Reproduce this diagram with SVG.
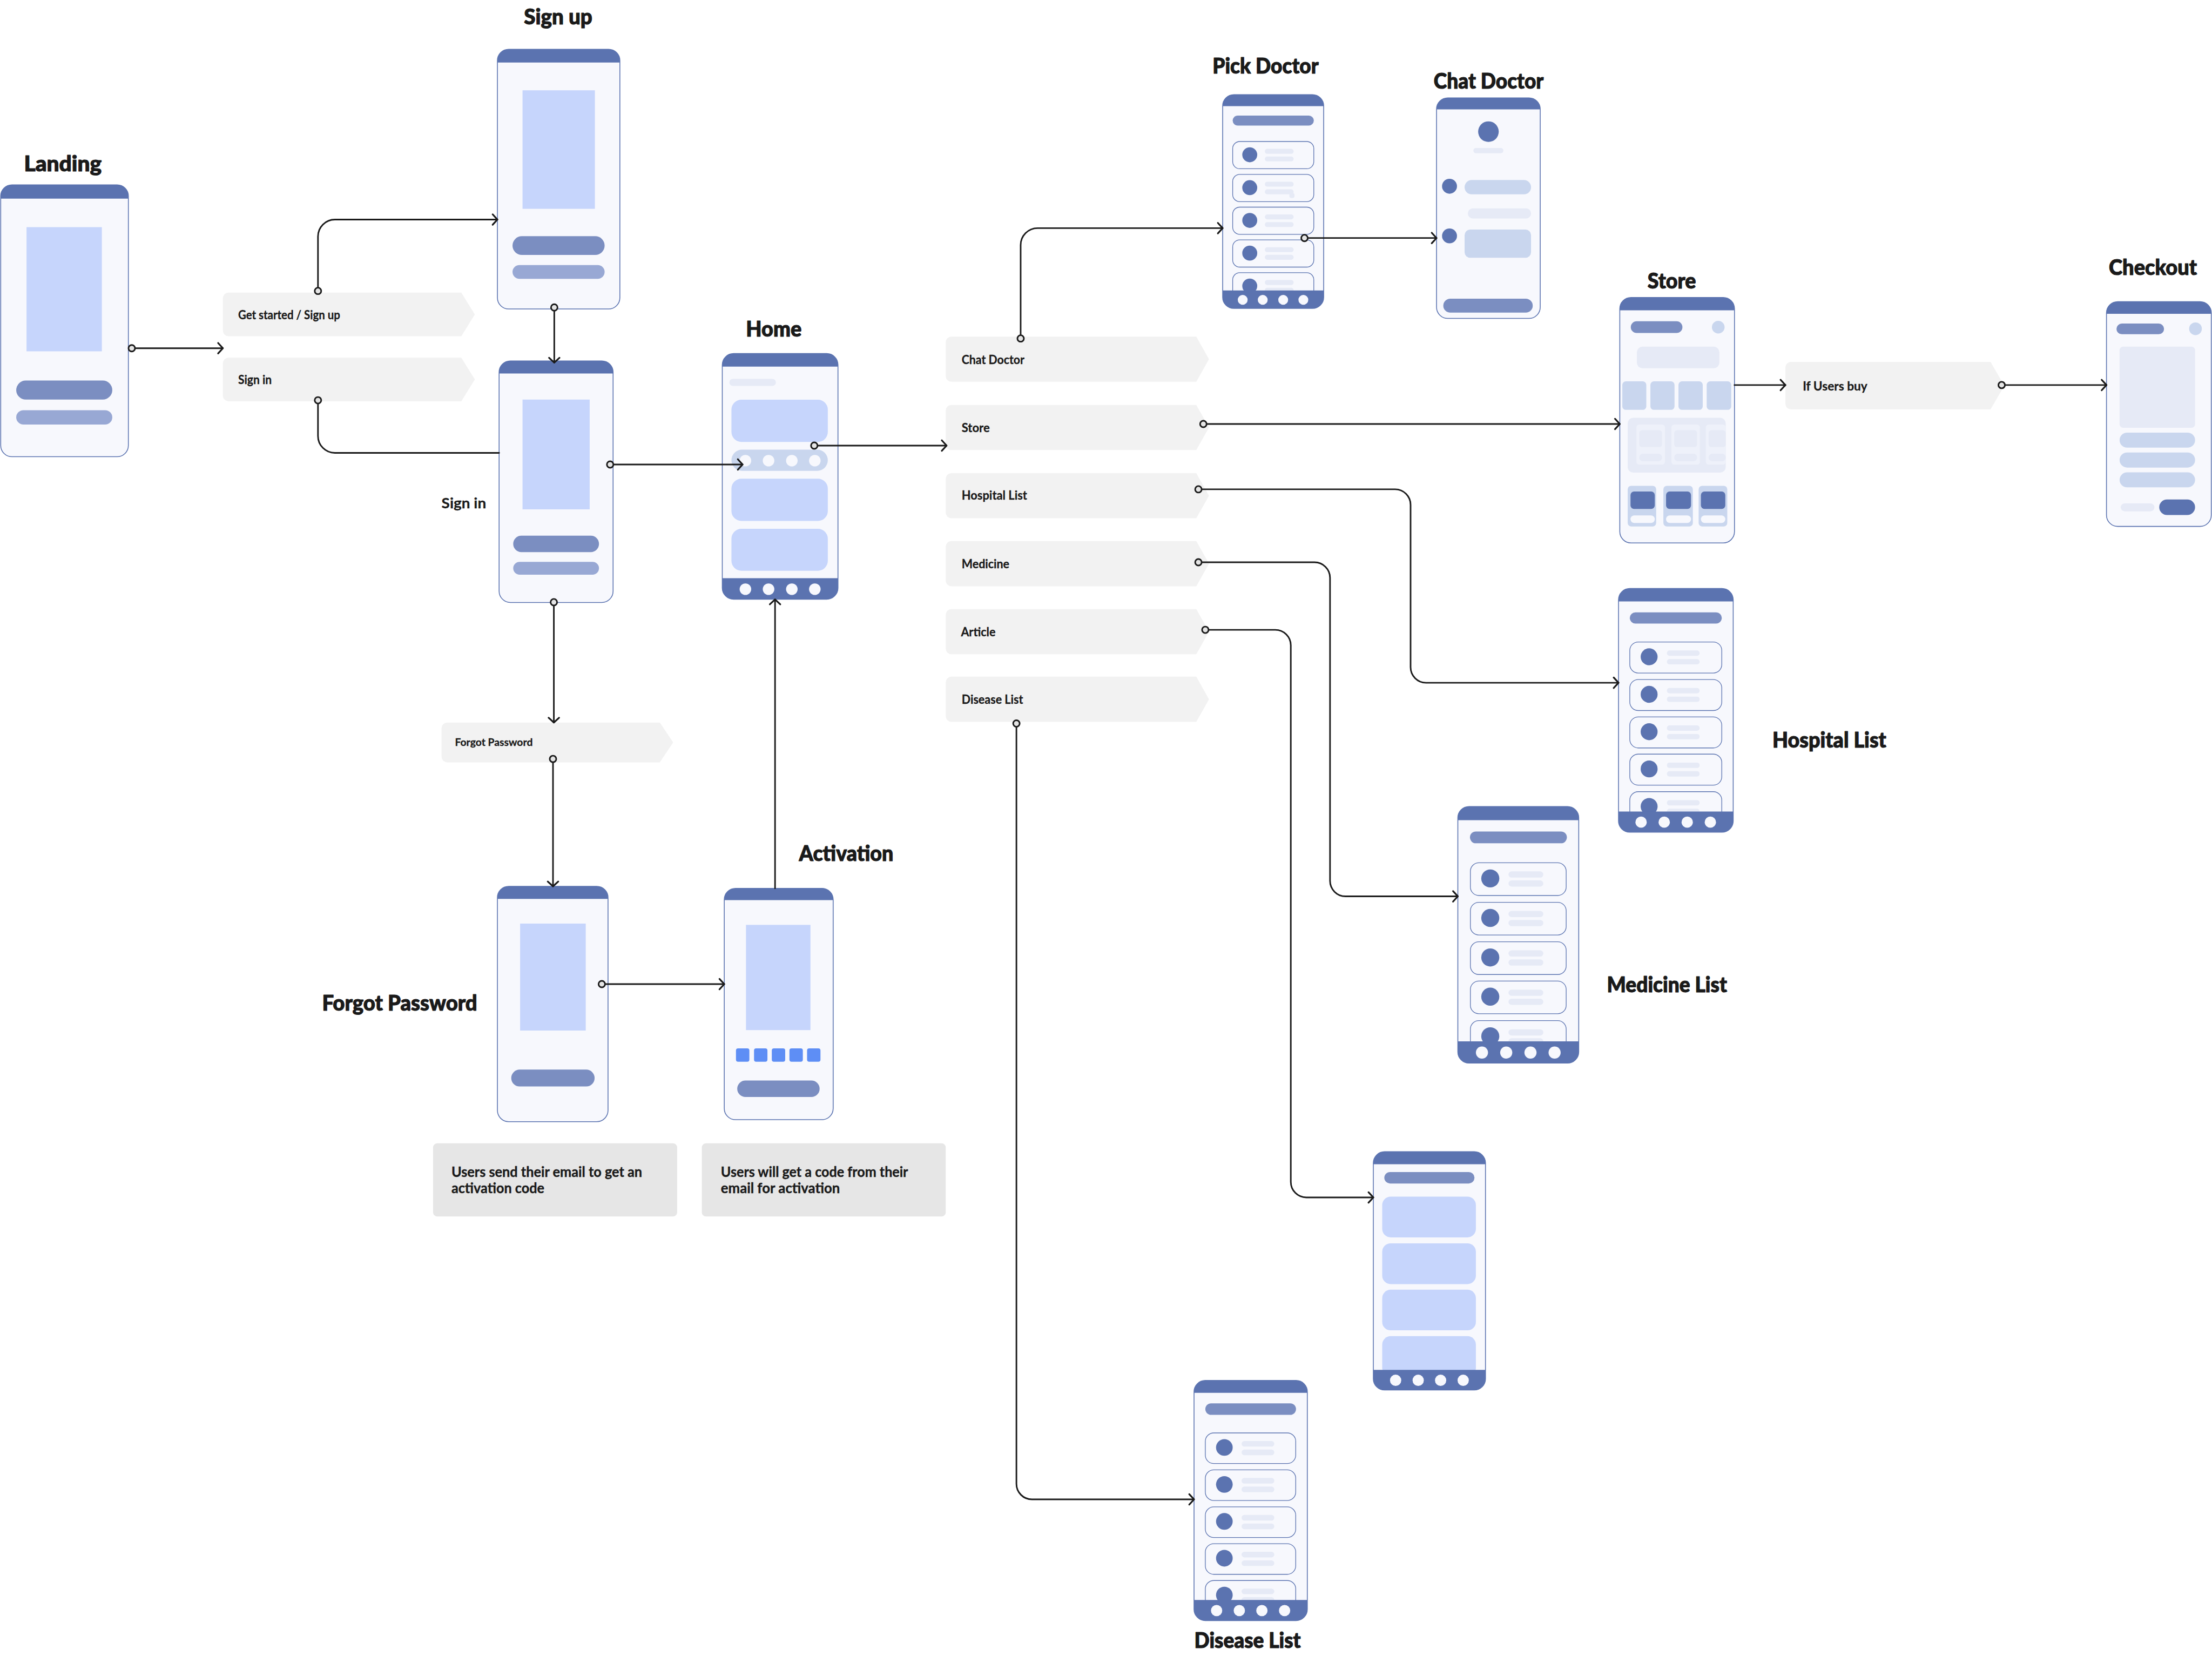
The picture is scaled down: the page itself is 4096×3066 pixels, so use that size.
<svg xmlns="http://www.w3.org/2000/svg" xmlns:xlink="http://www.w3.org/1999/xlink" width="4096" height="3066" viewBox="0 0 4096 3066">
<style>
.bd{fill:#F7F8FD;stroke:#5B73B0;stroke-width:0.6}
.hd{fill:#5B73B0}
.img{fill:#C6D5FC}
.b1{fill:#7B8EC1}
.b2{fill:#98A8D4}
.lt{fill:#E6EAF6}
.md{fill:#C9D6EE}
.dot{fill:#F7F8FD}
.cd{fill:#F7F8FD;stroke:#5B73B0;stroke-width:0.5}
.av{fill:#5B73B0}
.code{fill:#5E8EF5}
.tag{fill:#F2F2F2}
.note{fill:#E6E6E6}
.cn{fill:none;stroke:#1A1A1A;stroke-width:1.1;stroke-linecap:round;stroke-linejoin:round}
.pt{fill:#E5E5E5;stroke:#1A1A1A;stroke-width:1.1}
.t{font-family:Lato,'Noto Sans','DejaVu Sans',sans-serif;font-weight:700;fill:#1A1A1A;stroke:#1A1A1A;stroke-width:0.12;stroke-linejoin:round}
.tt{font-size:15.5px;font-weight:900;stroke-width:0.45}
.tl{font-size:9px}
.tn{font-size:10px;stroke-width:0.15}
</style>
<defs>
<marker id="arr" markerUnits="userSpaceOnUse" viewBox="-5 -5 10 10" markerWidth="10" markerHeight="10" refX="0" refY="0" orient="auto" overflow="visible">
<path d="M-3.4,-3.7 L0,0 L-3.4,3.7" fill="none" stroke="#1A1A1A" stroke-width="1.2" stroke-linecap="round" stroke-linejoin="round"/>
</marker>
<path id="tagM" d="M4,0 H177.6 L186.6,16 L177.6,32 H4 A4,4 0 0 1 0,28 V4 A4,4 0 0 1 4,0 Z"/>
<path id="tagA" d="M4,0 H169 L178.6,15.45 L169,30.9 H4 A4,4 0 0 1 0,26.9 V4 A4,4 0 0 1 4,0 Z"/>
<g id="cardP"><rect class="cd" x="0" y="0" width="57.5" height="19.3" rx="5"/><circle class="av" cx="12.1" cy="9.4" r="5.3"/><rect class="lt" x="22.8" y="5.2" width="20.4" height="3.5" rx="1.75"/><rect class="lt" x="22.8" y="10.6" width="20.4" height="3.5" rx="1.75"/></g>
<g id="cardH"><rect class="cd" x="0" y="0" width="65.2" height="22" rx="6"/><circle class="av" cx="13.7" cy="10.5" r="6"/><rect class="lt" x="26.3" y="6" width="23.2" height="3.8" rx="1.9"/><rect class="lt" x="26.3" y="12.1" width="23.2" height="3.8" rx="1.9"/></g>
<g id="cardM"><rect class="cd" x="0" y="0" width="67.9" height="23.2" rx="6"/><circle class="av" cx="14.1" cy="11.1" r="6.4"/><rect class="lt" x="27" y="6.1" width="24.7" height="4.4" rx="2.2"/><rect class="lt" x="27" y="12.5" width="24.7" height="4.4" rx="2.2"/></g>
<g id="cardD"><rect class="cd" x="0" y="0" width="64.1" height="21.7" rx="6"/><circle class="av" cx="13.5" cy="10.3" r="5.9"/><rect class="lt" x="25.7" y="5.7" width="23.2" height="4" rx="2"/><rect class="lt" x="25.7" y="11.8" width="23.2" height="4" rx="2"/></g>
</defs>
<rect width="4096" height="3066" fill="#FFFFFF"/>
<g transform="scale(2.612245)">

<g id="landing">
<rect class="bd" x="0.5" y="131" width="90.5" height="192.7" rx="8"/>
<path class="hd" d="M0.5,140.8 V139 A8,8 0 0 1 8.5,131 H83 A8,8 0 0 1 91,139 V140.8 Z"/>
<rect class="img" x="18.8" y="161" width="53.4" height="88"/>
<rect class="b1" x="11.5" y="269.7" width="68.1" height="13.5" rx="6.75"/>
<rect class="b2" x="11.5" y="290.7" width="68.1" height="10.2" rx="5.1"/>
<text class="t tt" x="17" y="121.4" textLength="55" lengthAdjust="spacingAndGlyphs">Landing</text>
</g>

<g id="signup">
<rect class="bd" x="352.6" y="34.9" width="86.8" height="184.1" rx="8"/>
<path class="hd" d="M352.6,44.3 V42.9 A8,8 0 0 1 360.6,34.9 H431.4 A8,8 0 0 1 439.4,42.9 V44.3 Z"/>
<rect class="img" x="370.4" y="64" width="51.3" height="84"/>
<rect class="b1" x="363.3" y="167.4" width="65.3" height="13.3" rx="6.65"/>
<rect class="b2" x="363.3" y="187.9" width="65.3" height="9.7" rx="4.85"/>
<text class="t tt" x="371.4" y="17.2" textLength="48.5" lengthAdjust="spacingAndGlyphs">Sign up</text>
</g>

<g id="signin">
<rect class="bd" x="353.8" y="255.8" width="80.8" height="171.2" rx="8"/>
<path class="hd" d="M353.8,264.7 V263.8 A8,8 0 0 1 361.8,255.8 H426.6 A8,8 0 0 1 434.6,263.8 V264.7 Z"/>
<rect class="img" x="370.4" y="283.2" width="47.6" height="77.8"/>
<rect class="b1" x="363.8" y="379.7" width="60.8" height="11.6" rx="5.8"/>
<rect class="b2" x="363.8" y="398.2" width="60.8" height="9.1" rx="4.55"/>
<text class="t" font-size="10.5" stroke-width="0.3" x="313" y="360.2" textLength="31.6" lengthAdjust="spacingAndGlyphs">Sign in</text>
</g>

<g id="home">
<rect class="bd" x="512" y="250.6" width="82" height="174.1" rx="8"/>
<path class="hd" d="M512,259.8 V258.6 A8,8 0 0 1 520,250.6 H586 A8,8 0 0 1 594,258.6 V259.8 Z"/>
<rect class="lt" x="517" y="268.5" width="33" height="5" rx="2.5"/>
<rect class="img" x="518.5" y="283.3" width="68.3" height="29.9" rx="7"/>
<rect class="md" x="518.5" y="318.7" width="68.3" height="15" rx="7.5"/>
<circle class="dot" cx="528.4" cy="326.5" r="4.1"/>
<circle class="dot" cx="544.8" cy="326.5" r="4.1"/>
<circle class="dot" cx="561.3" cy="326.5" r="4.1"/>
<circle class="dot" cx="577.6" cy="326.5" r="4.1"/>
<rect class="img" x="518.5" y="339.3" width="68.3" height="29.9" rx="7"/>
<rect class="img" x="518.5" y="374.8" width="68.3" height="29.7" rx="7"/>
<path class="hd" d="M512,409.8 H594 V416.7 A8,8 0 0 1 586,424.7 H520 A8,8 0 0 1 512,416.7 Z"/>
<circle class="dot" cx="528.4" cy="417.6" r="4.1"/>
<circle class="dot" cx="544.8" cy="417.6" r="4.1"/>
<circle class="dot" cx="561.3" cy="417.6" r="4.1"/>
<circle class="dot" cx="577.6" cy="417.6" r="4.1"/>
<text class="t tt" x="528.8" y="238.5" textLength="39.4" lengthAdjust="spacingAndGlyphs">Home</text>
</g>

<g id="forgot">
<rect class="bd" x="352.6" y="628.2" width="78.4" height="166.8" rx="8"/>
<path class="hd" d="M352.6,637.1 V636.2 A8,8 0 0 1 360.6,628.2 H423 A8,8 0 0 1 431,636.2 V637.1 Z"/>
<rect class="img" x="368.7" y="654.6" width="46.5" height="75.8"/>
<rect class="b1" x="362.4" y="758.1" width="59.1" height="11.9" rx="5.95"/>
<text class="t tt" x="228.3" y="716.4" textLength="110" lengthAdjust="spacingAndGlyphs">Forgot Password</text>
</g>

<g id="activation">
<rect class="bd" x="513.4" y="629.6" width="77.2" height="164" rx="8"/>
<path class="hd" d="M513.4,638 V637.6 A8,8 0 0 1 521.4,629.6 H582.6 A8,8 0 0 1 590.6,637.6 V638 Z"/>
<rect class="img" x="528.8" y="655.5" width="45.7" height="74.6"/>
<rect class="code" x="521.7" y="743" width="9.5" height="9.5" rx="1.5"/>
<rect class="code" x="534.5" y="743" width="9.5" height="9.5" rx="1.5"/>
<rect class="code" x="547.1" y="743" width="9.5" height="9.5" rx="1.5"/>
<rect class="code" x="559.6" y="743" width="9.5" height="9.5" rx="1.5"/>
<rect class="code" x="572.1" y="743" width="9.5" height="9.5" rx="1.5"/>
<rect class="b1" x="522.6" y="765.8" width="58.4" height="11.7" rx="5.85"/>
<text class="t tt" x="566.4" y="610.3" textLength="66.9" lengthAdjust="spacingAndGlyphs">Activation</text>
</g>

<g id="pickdoctor">
<rect class="bd" x="866.7" y="67.1" width="71.6" height="151.5" rx="8"/>
<rect class="b1" x="873.8" y="81.9" width="57.5" height="7.1" rx="3.55"/>
<use xlink:href="#cardP" x="873.8" y="100.3"/>
<use xlink:href="#cardP" x="873.8" y="123.6"/>
<rect class="lt" x="914" y="136.9" width="3.6" height="3.4" rx="1.2"/>
<use xlink:href="#cardP" x="873.8" y="146.8"/>
<use xlink:href="#cardP" x="873.8" y="170"/>
<use xlink:href="#cardP" x="873.8" y="193.3"/>
<path class="hd" d="M866.7,75.2 V75.1 A8,8 0 0 1 874.7,67.1 H930.3 A8,8 0 0 1 938.3,75.1 V75.2 Z"/>
<path class="hd" d="M866.7,205.9 H938.3 V210.6 A8,8 0 0 1 930.3,218.6 H874.7 A8,8 0 0 1 866.7,210.6 Z"/>
<circle class="dot" cx="880.9" cy="212.5" r="3.5"/>
<circle class="dot" cx="895.1" cy="212.5" r="3.5"/>
<circle class="dot" cx="909.6" cy="212.5" r="3.5"/>
<circle class="dot" cx="923.9" cy="212.5" r="3.5"/>
<text class="t tt" x="859.5" y="52" textLength="75.2" lengthAdjust="spacingAndGlyphs">Pick Doctor</text>
</g>

<g id="chatdoctor">
<rect class="bd" x="1018.3" y="69.4" width="73.5" height="156.3" rx="8"/>
<path class="hd" d="M1018.3,77.5 V77.4 A8,8 0 0 1 1026.3,69.4 H1083.8 A8,8 0 0 1 1091.8,77.4 V77.5 Z"/>
<circle class="av" cx="1055.1" cy="93.3" r="7.3"/>
<rect class="lt" x="1044.4" y="104.9" width="21.3" height="3.7" rx="1.85"/>
<circle class="av" cx="1027.5" cy="132" r="5.3"/>
<rect class="md" x="1038.2" y="127.6" width="47.1" height="10.1" rx="5"/>
<rect class="lt" x="1040.5" y="147.7" width="44.8" height="7.1" rx="3.5"/>
<circle class="av" cx="1027.5" cy="167.2" r="5.3"/>
<rect class="md" x="1038.2" y="162.7" width="47.1" height="20" rx="4"/>
<rect class="b1" x="1023.1" y="211.7" width="63.4" height="9.9" rx="4.95"/>
<text class="t tt" x="1016.3" y="62.8" textLength="77.9" lengthAdjust="spacingAndGlyphs">Chat Doctor</text>
</g>

<g id="store">
<rect class="bd" x="1148.2" y="210.8" width="81.3" height="174" rx="8"/>
<path class="hd" d="M1148.2,219.9 V218.8 A8,8 0 0 1 1156.2,210.8 H1221.5 A8,8 0 0 1 1229.5,218.8 V219.9 Z"/>
<rect class="b1" x="1156" y="227.7" width="36.6" height="8.3" rx="4.15"/>
<circle class="md" cx="1218" cy="231.9" r="4.5"/>
<rect class="lt" x="1160.3" y="245.7" width="58.5" height="15.3" rx="4"/>
<rect class="md" x="1150" y="270.3" width="17" height="20.2" rx="2.5"/>
<rect class="md" x="1169.9" y="270.3" width="17.1" height="20.2" rx="2.5"/>
<rect class="md" x="1189.8" y="270.3" width="17.2" height="20.2" rx="2.5"/>
<rect class="md" x="1209.8" y="270.3" width="17.4" height="20.2" rx="2.5"/>
<rect class="lt" x="1153.8" y="296.1" width="69.5" height="38.9" rx="4"/>
<rect x="1160" y="300.9" width="20.2" height="28.4" rx="2" fill="#EEF1FA"/>
<rect x="1184.8" y="300.9" width="20.2" height="28.4" rx="2" fill="#EEF1FA"/>
<rect x="1209.2" y="300.9" width="14.1" height="28.4" rx="2" fill="#EEF1FA"/>
<rect class="lt" x="1162" y="304.9" width="16.2" height="12" rx="2"/>
<rect class="lt" x="1186.8" y="304.9" width="16.2" height="12" rx="2"/>
<rect class="lt" x="1211.2" y="304.9" width="12.1" height="12" rx="2"/>
<rect class="lt" x="1162" y="321.6" width="16.2" height="5.3" rx="2.6"/>
<rect class="lt" x="1186.8" y="321.6" width="16.2" height="5.3" rx="2.6"/>
<rect class="lt" x="1211.2" y="321.6" width="12.1" height="5.3" rx="2.6"/>
<rect class="md" x="1153.8" y="344.3" width="20.2" height="28.8" rx="2.5"/>
<rect class="md" x="1179.1" y="344.3" width="20.9" height="28.8" rx="2.5"/>
<rect class="md" x="1204.1" y="344.3" width="20.3" height="28.8" rx="2.5"/>
<rect class="hd" x="1155.8" y="348.4" width="17.2" height="12.3" rx="2.5"/>
<rect class="hd" x="1181" y="348.4" width="17.7" height="12.3" rx="2.5"/>
<rect class="hd" x="1205.7" y="348.4" width="17.3" height="12.3" rx="2.5"/>
<rect class="dot" x="1155.8" y="365.3" width="17.2" height="5.4" rx="2.7"/>
<rect class="dot" x="1181" y="365.3" width="17.7" height="5.4" rx="2.7"/>
<rect class="dot" x="1205.7" y="365.3" width="17.3" height="5.4" rx="2.7"/>
<text class="t tt" x="1167.9" y="204.6" textLength="34.3" lengthAdjust="spacingAndGlyphs">Store</text>
</g>

<g id="checkout">
<rect class="bd" x="1493.2" y="213.8" width="74.3" height="159.3" rx="8"/>
<path class="hd" d="M1493.2,222.4 V221.8 A8,8 0 0 1 1501.2,213.8 H1559.5 A8,8 0 0 1 1567.5,221.8 V222.4 Z"/>
<rect class="b1" x="1500.3" y="229.3" width="33.7" height="7.6" rx="3.8"/>
<circle class="md" cx="1556.3" cy="233" r="4.5"/>
<rect class="lt" x="1502.5" y="245.7" width="53.5" height="57.5" rx="2.5"/>
<rect class="md" x="1502.5" y="306.6" width="53.5" height="10.7" rx="5.35"/>
<rect class="md" x="1502.5" y="320.7" width="53.5" height="10.7" rx="5.35"/>
<rect class="md" x="1502.5" y="334.8" width="53.5" height="10.6" rx="5.3"/>
<rect class="lt" x="1503.3" y="356.8" width="23.9" height="5.6" rx="2.8"/>
<rect class="hd" x="1530.6" y="354" width="25.4" height="11" rx="5.5"/>
<text class="t tt" x="1494.9" y="194.8" textLength="62.4" lengthAdjust="spacingAndGlyphs">Checkout</text>
</g>

<g id="hospitallist">
<rect class="bd" x="1147.3" y="417.1" width="81.3" height="172.7" rx="8"/>
<rect class="b1" x="1155.3" y="434" width="65.2" height="8" rx="4"/>
<use xlink:href="#cardH" x="1155.3" y="455"/>
<use xlink:href="#cardH" x="1155.3" y="481.6"/>
<use xlink:href="#cardH" x="1155.3" y="508.1"/>
<use xlink:href="#cardH" x="1155.3" y="534.5"/>
<use xlink:href="#cardH" x="1155.3" y="561.1"/>
<path class="hd" d="M1147.3,426.3 V425.1 A8,8 0 0 1 1155.3,417.1 H1220.6 A8,8 0 0 1 1228.6,425.1 V426.3 Z"/>
<path class="hd" d="M1147.3,575.2 H1228.6 V581.8 A8,8 0 0 1 1220.6,589.8 H1155.3 A8,8 0 0 1 1147.3,581.8 Z"/>
<circle class="dot" cx="1163.3" cy="582.7" r="4"/>
<circle class="dot" cx="1179.7" cy="582.7" r="4"/>
<circle class="dot" cx="1196" cy="582.7" r="4"/>
<circle class="dot" cx="1212.4" cy="582.7" r="4"/>
<text class="t tt" x="1256.4" y="529.8" textLength="80.7" lengthAdjust="spacingAndGlyphs">Hospital List</text>
</g>

<g id="medicinelist">
<rect class="bd" x="1033.4" y="571.6" width="85.7" height="181.9" rx="8"/>
<rect class="b1" x="1042" y="589.3" width="68.7" height="8.4" rx="4.2"/>
<use xlink:href="#cardM" x="1042.3" y="611.5"/>
<use xlink:href="#cardM" x="1042.3" y="639.5"/>
<use xlink:href="#cardM" x="1042.3" y="667.5"/>
<use xlink:href="#cardM" x="1042.3" y="695.3"/>
<use xlink:href="#cardM" x="1042.3" y="723.4"/>
<path class="hd" d="M1033.4,581.3 V579.6 A8,8 0 0 1 1041.4,571.6 H1111.1 A8,8 0 0 1 1119.1,579.6 V581.3 Z"/>
<path class="hd" d="M1033.4,738.1 H1119.1 V745.5 A8,8 0 0 1 1111.1,753.5 H1041.4 A8,8 0 0 1 1033.4,745.5 Z"/>
<circle class="dot" cx="1050.5" cy="746" r="4.3"/>
<circle class="dot" cx="1067.7" cy="746" r="4.3"/>
<circle class="dot" cx="1084.9" cy="746" r="4.3"/>
<circle class="dot" cx="1102" cy="746" r="4.3"/>
<text class="t tt" x="1139.1" y="703.1" textLength="85.1" lengthAdjust="spacingAndGlyphs">Medicine List</text>
</g>

<g id="article">
<rect class="bd" x="973.5" y="816.3" width="79.5" height="168.9" rx="8"/>
<rect class="b1" x="981.3" y="830.7" width="63.9" height="8.1" rx="4.05"/>
<rect class="img" x="979.8" y="848.1" width="66.4" height="28.9" rx="6"/>
<rect class="img" x="979.8" y="881.2" width="66.4" height="28.9" rx="6"/>
<rect class="img" x="979.8" y="914.1" width="66.4" height="28.8" rx="6"/>
<rect class="img" x="979.8" y="947" width="66.4" height="28.8" rx="6"/>
<path class="hd" d="M973.5,825.2 V824.3 A8,8 0 0 1 981.5,816.3 H1045 A8,8 0 0 1 1053,824.3 V825.2 Z"/>
<path class="hd" d="M973.5,970.9 H1053 V977.2 A8,8 0 0 1 1045,985.2 H981.5 A8,8 0 0 1 973.5,977.2 Z"/>
<circle class="dot" cx="989.3" cy="978.3" r="4"/>
<circle class="dot" cx="1005.3" cy="978.3" r="4"/>
<circle class="dot" cx="1021.2" cy="978.3" r="4"/>
<circle class="dot" cx="1037.2" cy="978.3" r="4"/>
</g>

<g id="diseaselist">
<rect class="bd" x="846.4" y="978.4" width="80.3" height="170.2" rx="8"/>
<rect class="b1" x="854.4" y="994.6" width="64.3" height="8.2" rx="4.1"/>
<use xlink:href="#cardD" x="854.4" y="1015.6"/>
<use xlink:href="#cardD" x="854.4" y="1041.8"/>
<use xlink:href="#cardD" x="854.4" y="1068"/>
<use xlink:href="#cardD" x="854.4" y="1094.1"/>
<use xlink:href="#cardD" x="854.4" y="1120.2"/>
<path class="hd" d="M846.4,987.2 V986.4 A8,8 0 0 1 854.4,978.4 H918.7 A8,8 0 0 1 926.7,986.4 V987.2 Z"/>
<path class="hd" d="M846.4,1134 H926.7 V1140.6 A8,8 0 0 1 918.7,1148.6 H854.4 A8,8 0 0 1 846.4,1140.6 Z"/>
<circle class="dot" cx="862.4" cy="1141.5" r="4"/>
<circle class="dot" cx="878.5" cy="1141.5" r="4"/>
<circle class="dot" cx="894.5" cy="1141.5" r="4"/>
<circle class="dot" cx="910.6" cy="1141.5" r="4"/>
<text class="t tt" x="846.6" y="1168" textLength="75.4" lengthAdjust="spacingAndGlyphs">Disease List</text>
</g>

<g id="label-getstarted">
<use xlink:href="#tagA" class="tag" x="158" y="207.4"/>
<text class="t tl" x="168.8" y="226.3" textLength="72.3" lengthAdjust="spacingAndGlyphs">Get started / Sign up</text>
</g>
<g id="label-signin">
<use xlink:href="#tagA" class="tag" x="158" y="253.5"/>
<text class="t tl" x="168.8" y="272.3" textLength="23.8" lengthAdjust="spacingAndGlyphs">Sign in</text>
</g>
<g id="label-chatdoctor">
<use xlink:href="#tagM" class="tag" x="670.4" y="238.6"/>
<text class="t tl" x="681.7" y="258" textLength="44.5" lengthAdjust="spacingAndGlyphs">Chat Doctor</text>
</g>
<g id="label-store">
<use xlink:href="#tagM" class="tag" x="670.4" y="287"/>
<text class="t tl" x="681.7" y="306.2" textLength="19.9" lengthAdjust="spacingAndGlyphs">Store</text>
</g>
<g id="label-hospital">
<use xlink:href="#tagM" class="tag" x="670.4" y="335.3"/>
<text class="t tl" x="681.7" y="354.2" textLength="46.4" lengthAdjust="spacingAndGlyphs">Hospital List</text>
</g>
<g id="label-medicine">
<use xlink:href="#tagM" class="tag" x="670.4" y="383.5"/>
<text class="t tl" x="681.7" y="402.6" textLength="33.8" lengthAdjust="spacingAndGlyphs">Medicine</text>
</g>
<g id="label-article">
<use xlink:href="#tagM" class="tag" x="670.4" y="431.7"/>
<text class="t tl" x="681.2" y="450.8" textLength="24.5" lengthAdjust="spacingAndGlyphs">Article</text>
</g>
<g id="label-disease">
<use xlink:href="#tagM" class="tag" x="670.4" y="479.6"/>
<text class="t tl" x="681.7" y="498.7" textLength="43.5" lengthAdjust="spacingAndGlyphs">Disease List</text>
</g>
<g id="label-ifusersbuy">
<path class="tag" d="M1269.6,256.5 H1411 L1420.8,273.35 L1411,290.2 H1269.6 A4,4 0 0 1 1265.6,286.2 V260.5 A4,4 0 0 1 1269.6,256.5 Z"/>
<text class="t tl" x="1277.9" y="276.8" textLength="45.8" lengthAdjust="spacingAndGlyphs">If Users buy</text>
</g>
<g id="label-forgot">
<path class="tag" d="M317,512.1 H467.7 L477.2,526.2 L467.7,540.3 H317 A4,4 0 0 1 313,536.3 V516.1 A4,4 0 0 1 317,512.1 Z"/>
<text class="t" font-size="7.5" x="322.5" y="528.6" textLength="55.1" lengthAdjust="spacingAndGlyphs">Forgot Password</text>
</g>
<g id="note-forgot">
<rect class="note" x="307" y="810.3" width="173" height="51.9" rx="3"/>
<text class="t tn" x="320" y="834.2" textLength="135.2" lengthAdjust="spacingAndGlyphs">Users send their email to get an</text>
<text class="t tn" x="320" y="845.8" textLength="65.9" lengthAdjust="spacingAndGlyphs">activation code</text>
</g>
<g id="note-activation">
<rect class="note" x="497.5" y="810.3" width="172.9" height="51.9" rx="3"/>
<text class="t tn" x="511" y="834.2" textLength="132.7" lengthAdjust="spacingAndGlyphs">Users will get a code from their</text>
<text class="t tn" x="511" y="845.8" textLength="84.4" lengthAdjust="spacingAndGlyphs">email for activation</text>
</g>

<g id="connectors">
<path class="cn" marker-end="url(#arr)" d="M93.4,246.8 H158"/>
<path class="cn" marker-end="url(#arr)" d="M225.4,206.2 V167.6 A12,12 0 0 1 237.4,155.6 H352.6"/>
<path class="cn" d="M225.4,283.7 V309 A12,12 0 0 0 237.4,321 H353.8"/>
<path class="cn" marker-end="url(#arr)" d="M392.9,217.9 V257"/>
<path class="cn" marker-end="url(#arr)" d="M432.5,329.2 H526.4"/>
<path class="cn" marker-end="url(#arr)" d="M577.2,315.8 H671"/>
<path class="cn" marker-end="url(#arr)" d="M723.5,239.9 V173.7 A12,12 0 0 1 735.5,161.7 H866.7"/>
<path class="cn" marker-end="url(#arr)" d="M924.7,168.7 H1018.3"/>
<path class="cn" marker-end="url(#arr)" d="M853,300.5 H1148.2"/>
<path class="cn" marker-end="url(#arr)" d="M1229.5,272.9 H1265.6"/>
<path class="cn" marker-end="url(#arr)" d="M1418.9,272.9 H1493.2"/>
<path class="cn" marker-end="url(#arr)" d="M849.5,346.8 H988.9 A11,11 0 0 1 999.9,357.8 V472.9 A11,11 0 0 0 1010.9,483.9 H1147.3"/>
<path class="cn" marker-end="url(#arr)" d="M849.5,398.5 H931.8 A11,11 0 0 1 942.8,409.5 V624.3 A11,11 0 0 0 953.8,635.3 H1033.4"/>
<path class="cn" marker-end="url(#arr)" d="M854.4,446.4 H904 A11,11 0 0 1 915,457.4 V837.7 A11,11 0 0 0 926,848.7 H973.5"/>
<path class="cn" marker-end="url(#arr)" d="M720.5,512.8 V1051.7 A11,11 0 0 0 731.5,1062.7 H846.4"/>
<path class="cn" marker-end="url(#arr)" d="M392.6,426.8 V512.1"/>
<path class="cn" marker-end="url(#arr)" d="M392,537.9 V628.2"/>
<path class="cn" marker-end="url(#arr)" d="M426.6,697.5 H513.4"/>
<path class="cn" marker-end="url(#arr)" d="M549.4,629.6 V424.9"/>
<circle class="pt" cx="93.4" cy="246.8" r="2.3"/>
<circle class="pt" cx="225.4" cy="206.2" r="2.3"/>
<circle class="pt" cx="225.4" cy="283.7" r="2.3"/>
<circle class="pt" cx="392.9" cy="217.9" r="2.3"/>
<circle class="pt" cx="432.5" cy="329.2" r="2.3"/>
<circle class="pt" cx="577.2" cy="315.8" r="2.3"/>
<circle class="pt" cx="723.5" cy="239.9" r="2.3"/>
<circle class="pt" cx="924.7" cy="168.7" r="2.3"/>
<circle class="pt" cx="853" cy="300.5" r="2.3"/>
<circle class="pt" cx="1418.9" cy="272.9" r="2.3"/>
<circle class="pt" cx="849.5" cy="346.8" r="2.3"/>
<circle class="pt" cx="849.5" cy="398.5" r="2.3"/>
<circle class="pt" cx="854.4" cy="446.4" r="2.3"/>
<circle class="pt" cx="720.5" cy="512.8" r="2.3"/>
<circle class="pt" cx="392.6" cy="426.8" r="2.3"/>
<circle class="pt" cx="392" cy="537.9" r="2.3"/>
<circle class="pt" cx="426.6" cy="697.5" r="2.3"/>
</g>

</g>
</svg>
